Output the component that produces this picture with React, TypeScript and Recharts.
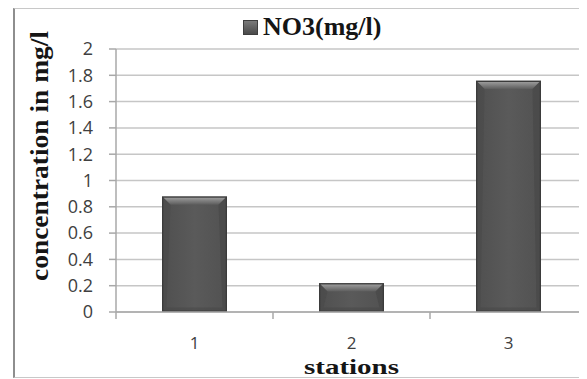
import React from 'react';
import { BarChart, Bar, XAxis, YAxis, CartesianGrid, Legend, Label } from 'recharts';

// Nitrate concentration per sampling station
const stations = ['1', '2', '3'];
const no3Values = [0.88, 0.22, 1.76];
const yTicks = [0, 0.2, 0.4, 0.6, 0.8, 1, 1.2, 1.4, 1.6, 1.8, 2];
const seriesName = 'NO3(mg/l)';
const xTitle = 'stations';
const yTitle = 'concentration in mg/l';

const data = stations.map((station, i) => ({ station, no3: no3Values[i] }));

const AXIS_GRAY = '#a8a8a8';
const GRID_GRAY = '#c6c6c6';
const TITLE_FONT = '"Liberation Serif", "Times New Roman", serif';
const TICK_FONT = '"Open Sans", "DejaVu Sans", sans-serif';

// Bar with a bevelled look: dark rim, lighter top facet, shaded body
const BevelBar = (props: any) => {
  const { x, y, width, height } = props;
  if (!height || height <= 0) return null;
  const r = 1.5;
  const b = Math.min(7, (height - 2 * r) / 2, (width - 2 * r) / 2);
  const ix = x + r;
  const iy = y + r;
  const iw = width - 2 * r;
  const ih = height - 2 * r;
  const sb = Math.min(3, b);
  return (
    <g>
      <rect x={x} y={y} width={width} height={height} fill="#3b3b3b" />
      <rect x={ix} y={iy} width={iw} height={ih} fill="url(#barBody)" />
      <polygon
        points={`${ix},${iy} ${ix + iw},${iy} ${ix + iw - b},${iy + b} ${ix + b},${iy + b}`}
        fill="url(#barTop)"
      />
      <polygon
        points={`${ix},${iy} ${ix + b},${iy + b} ${ix + sb},${iy + ih - sb} ${ix},${iy + ih}`}
        fill="#474747"
        opacity={0.5}
      />
      <polygon
        points={`${ix + iw},${iy} ${ix + iw - b},${iy + b} ${ix + iw - sb},${iy + ih - sb} ${ix + iw},${iy + ih}`}
        fill="#434343"
        opacity={0.5}
      />
      <polygon
        points={`${ix},${iy + ih} ${ix + sb},${iy + ih - sb} ${ix + iw - sb},${iy + ih - sb} ${ix + iw},${iy + ih}`}
        fill="#454545"
        opacity={0.5}
      />
    </g>
  );
};

// Category label at the band centre, tick mark at the band's left edge
const StationTick = (props: any) => {
  const { x, y, payload } = props;
  const half = payload && typeof payload.offset === 'number' ? payload.offset : 0;
  return (
    <g>
      <line x1={x - half} y1={y} x2={x - half} y2={y + 7} stroke={AXIS_GRAY} strokeWidth={1.5} />
      <text
        x={x}
        y={y + 30}
        textAnchor="middle"
        dominantBaseline="central"
        fontFamily={TICK_FONT}
        fontSize={17}
        fill="#404040"
      >
        {payload.value}
      </text>
    </g>
  );
};

const LegendContent = () => (
  <div style={{ display: 'flex', alignItems: 'center', whiteSpace: 'nowrap', height: 26 }}>
    <span
      style={{
        display: 'inline-block',
        width: 13,
        height: 13,
        background: 'linear-gradient(#7a7a7a, #4a4a4a)',
        border: '1px solid #3e3e3e',
        marginRight: 5,
      }}
    />
    <span
      style={{
        fontFamily: TITLE_FONT,
        fontWeight: 'bold',
        fontSize: 26,
        lineHeight: '26px',
        color: '#151515',
      }}
    >
      {seriesName}
    </span>
  </div>
);

export default function App() {
  return (
    <div style={{ position: 'relative', width: 579, height: 371 }}>
      <div
        style={{
          position: 'absolute',
          left: 5,
          top: 0,
          width: 572,
          height: 368,
          borderTop: '1px solid #c8c8c8',
          borderRight: '1px solid #c8c8c8',
          borderBottom: '1px solid #c8c8c8',
          borderLeft: '2px solid #8e8e8e',
        }}
      />
      <BarChart
        width={579}
        height={371}
        data={data}
        margin={{ top: 15, right: 0, bottom: 0, left: 0 }}
        barSize={65}
        style={{ position: 'absolute', left: 0, top: 0 }}
      >
        <defs>
          <linearGradient id="barBody" x1="0" y1="0" x2="1" y2="0">
            <stop offset="0%" stopColor="#505050" />
            <stop offset="50%" stopColor="#5a5a5a" />
            <stop offset="100%" stopColor="#525252" />
          </linearGradient>
          <linearGradient id="barTop" x1="0" y1="0" x2="0" y2="1">
            <stop offset="0%" stopColor="#9a9a9a" />
            <stop offset="100%" stopColor="#5c5c5c" />
          </linearGradient>
        </defs>
        <CartesianGrid vertical={false} stroke={GRID_GRAY} strokeWidth={1.5} />
        <XAxis
          dataKey="station"
          height={67}
          stroke={AXIS_GRAY}
          strokeWidth={1.5}
          tickLine={false}
          tickSize={0}
          tickMargin={0}
          tick={<StationTick />}
          interval={0}
        >
          <Label
            content={(p: any) => {
              const vb = p.viewBox || {};
              return (
                <text
                  x={vb.x + vb.width / 2}
                  y={vb.y + 62}
                  textAnchor="middle"
                  fontFamily={TITLE_FONT}
                  fontWeight="bold"
                  fontSize={21}
                  textLength={95}
                  lengthAdjust="spacingAndGlyphs"
                  fill="#151515"
                >
                  {xTitle}
                </text>
              );
            }}
          />
        </XAxis>
        <YAxis
          width={108}
          domain={[0, 2]}
          ticks={yTicks}
          interval={0}
          stroke={AXIS_GRAY}
          strokeWidth={1.5}
          tickSize={7}
          tickMargin={16}
          tick={{ fontFamily: TICK_FONT, fontSize: 18, fill: '#404040' }}
        >
          <Label
            content={(p: any) => {
              const vb = p.viewBox || {};
              const cx = 40;
              const cy = vb.y + 107;
              return (
                <text
                  x={cx}
                  y={cy}
                  transform={`rotate(-90, ${cx}, ${cy})`}
                  textAnchor="middle"
                  fontFamily={TITLE_FONT}
                  fontWeight="bold"
                  fontSize={25}
                  textLength={250}
                  lengthAdjust="spacingAndGlyphs"
                  fill="#151515"
                >
                  {yTitle}
                </text>
              );
            }}
          />
        </YAxis>
        <Legend
          verticalAlign="top"
          content={<LegendContent />}
          wrapperStyle={{ top: 6, left: 235, width: 'auto' }}
        />
        <Bar dataKey="no3" name={seriesName} shape={<BevelBar />} isAnimationActive={false} />
      </BarChart>
    </div>
  );
}
